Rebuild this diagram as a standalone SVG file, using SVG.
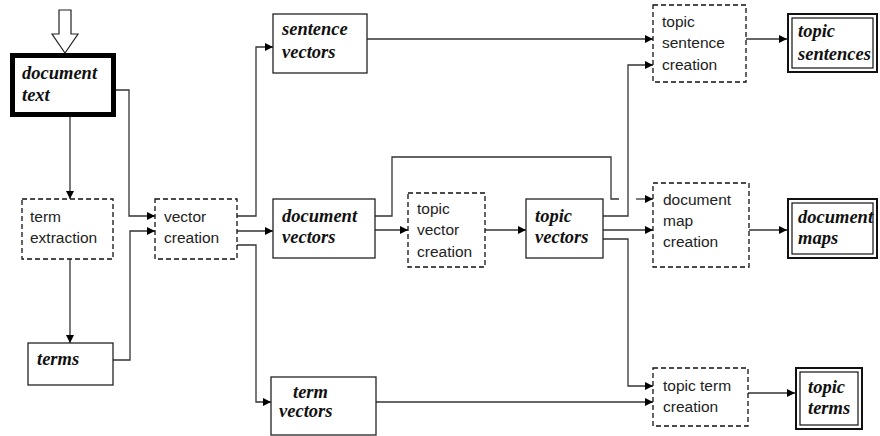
<svg xmlns="http://www.w3.org/2000/svg" width="880" height="436" viewBox="0 0 880 436">
<defs>
<style>
.box{fill:#fff;stroke:#222;stroke-width:1.3}
.dash{fill:#fff;stroke:#111;stroke-width:1.3;stroke-dasharray:5 3}
.thick{fill:#fff;stroke:#000;stroke-width:5}
.dblo{fill:#fff;stroke:#111;stroke-width:2}
.dbli{fill:none;stroke:#111;stroke-width:1.2}
.ser{font-family:"Liberation Serif","Times New Roman",serif;font-weight:bold;font-style:italic;font-size:18.5px;fill:#111}
.san{font-family:"Liberation Sans",Arial,Helvetica,sans-serif;font-size:15.5px;fill:#222}
.ln{fill:none;stroke:#333;stroke-width:1.3}
.ar{marker-end:url(#ah)}
</style>
<marker id="ah" viewBox="0 0 10 10" refX="10" refY="5" markerWidth="9" markerHeight="8" markerUnits="userSpaceOnUse" orient="auto">
<path d="M0,0 L10,5 L0,10 z" fill="#000"/>
</marker>
</defs>

<polygon points="59,10 71,10 71,34 78,34 65,53 52,34 59,34" fill="#fff" stroke="#222" stroke-width="1.2"/>

<g id="connectors">
<path class="ln ar" d="M70,117 V199"/>
<path class="ln ar" d="M116,90 H129 V216 H155"/>
<path class="ln ar" d="M70,259 V343"/>
<path class="ln ar" d="M113,360 H130 V231 H155"/>
<path class="ln ar" d="M237,216 H256 V47 H273"/>
<path class="ln ar" d="M237,231 H273"/>
<path class="ln ar" d="M237,245 H256 V402 H271"/>
<path class="ln ar" d="M367,39 H653"/>
<path class="ln" d="M375,216 H392 V157 H611 V199 H619"/>
<path class="ln ar" d="M636,199 H653"/>
<path class="ln ar" d="M375,230 H408"/>
<path class="ln ar" d="M485,230 H526"/>
<path class="ln ar" d="M603,216 H628 V65 H653"/>
<path class="ln ar" d="M603,230 H653"/>
<path class="ln ar" d="M603,239 H628 V386 H653"/>
<path class="ln ar" d="M376,402 H653"/>
<path class="ln ar" d="M746,39 H787"/>
<path class="ln ar" d="M749,230 H787"/>
<path class="ln ar" d="M748,393 H795"/>
</g>

<g id="document-text">
<rect class="thick" x="12.5" y="55.5" width="101" height="59"/>
<text class="ser" x="22" y="79">document</text>
<text class="ser" x="22" y="101">text</text>
</g>

<g id="term-extraction">
<rect class="dash" x="22" y="199" width="91" height="60"/>
<text class="san" x="30" y="222">term</text>
<text class="san" x="30" y="243">extraction</text>
</g>

<g id="terms">
<rect class="box" x="28" y="343" width="85" height="42"/>
<text class="ser" x="37" y="365">terms</text>
</g>

<g id="vector-creation">
<rect class="dash" x="155" y="199" width="82" height="60"/>
<text class="san" x="164" y="222">vector</text>
<text class="san" x="164" y="243">creation</text>
</g>

<g id="sentence-vectors">
<rect class="box" x="273" y="14" width="94" height="59"/>
<text class="ser" x="282" y="35">sentence</text>
<text class="ser" x="282" y="58">vectors</text>
</g>

<g id="document-vectors">
<rect class="box" x="273" y="199" width="102" height="59"/>
<text class="ser" x="282" y="222">document</text>
<text class="ser" x="282" y="243">vectors</text>
</g>

<g id="term-vectors">
<rect class="box" x="271" y="377" width="105" height="58"/>
<text class="ser" x="293" y="398">term</text>
<text class="ser" x="279" y="417">vectors</text>
</g>

<g id="topic-vector-creation">
<rect class="dash" x="408" y="193" width="77" height="74"/>
<text class="san" x="417" y="214">topic</text>
<text class="san" x="417" y="235">vector</text>
<text class="san" x="417" y="257">creation</text>
</g>

<g id="topic-vectors">
<rect class="box" x="526" y="199" width="77" height="59"/>
<text class="ser" x="535" y="222">topic</text>
<text class="ser" x="535" y="243">vectors</text>
</g>

<g id="topic-sentence-creation">
<rect class="dash" x="653" y="5" width="93" height="77"/>
<text class="san" x="662" y="27">topic</text>
<text class="san" x="662" y="48">sentence</text>
<text class="san" x="662" y="70">creation</text>
</g>

<g id="document-map-creation">
<rect class="dash" x="653" y="183" width="96" height="84"/>
<text class="san" x="663" y="205">document</text>
<text class="san" x="663" y="226">map</text>
<text class="san" x="663" y="247">creation</text>
</g>

<g id="topic-term-creation">
<rect class="dash" x="653" y="368" width="95" height="58"/>
<text class="san" x="663" y="391">topic term</text>
<text class="san" x="663" y="412">creation</text>
</g>

<g id="topic-sentences">
<rect class="dblo" x="788" y="14" width="89" height="58"/>
<rect class="dbli" x="792" y="18" width="81" height="50"/>
<text class="ser" x="798" y="37">topic</text>
<text class="ser" x="798" y="60">sentences</text>
</g>

<g id="document-maps">
<rect class="dblo" x="788" y="199" width="89" height="59"/>
<rect class="dbli" x="792" y="203" width="81" height="51"/>
<text class="ser" x="798" y="223">document</text>
<text class="ser" x="798" y="244">maps</text>
</g>

<g id="topic-terms">
<rect class="dblo" x="796" y="368" width="66" height="61"/>
<rect class="dbli" x="800" y="372" width="58" height="53"/>
<text class="ser" x="808" y="393">topic</text>
<text class="ser" x="808" y="414">terms</text>
</g>
</svg>
